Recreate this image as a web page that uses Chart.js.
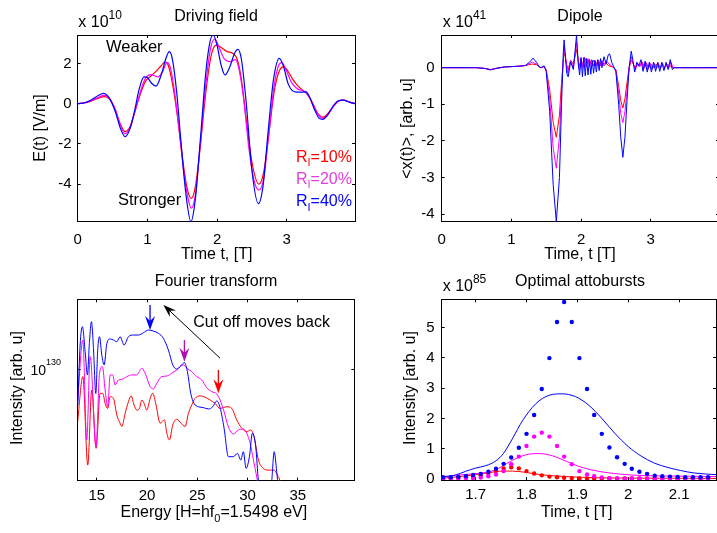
<!DOCTYPE html>
<html>
<head>
<meta charset="utf-8">
<script src="https://cdn.jsdelivr.net/npm/chart.js@4.4.1/dist/chart.umd.min.js"></script>
<style>
html, body { margin: 0; padding: 0; background: #fff; overflow: hidden; }
#wrap { position: relative; width: 717px; height: 533px; overflow: hidden; background: #fff; }
#wrap canvas { position: absolute; left: 0; top: 0; }
</style>
</head>
<body>
<div id="wrap">
  <canvas id="field" width="720" height="533"></canvas>
  <canvas id="dipole" width="720" height="533"></canvas>
  <canvas id="fourier" width="720" height="533"></canvas>
  <canvas id="burst" width="720" height="533"></canvas>
</div>
<script>
const W = 720, H = 533;
const FONT = '"Liberation Sans", Arial, Helvetica, sans-serif';
const RED = '#ff0000', MAG = '#ff00ff', BLUE = '#0000ff';
const AXIS_W = 60, AXIS_H = 30;   // 刻度标签所占的盒子

// 驱动场 E(t) [x1e10 V/m]，[t, E]
const fieldRed = [[0,0],[0.1,0.04],[0.2,0.14],[0.3,0.28],[0.38,0.35],[0.46,0.22],[0.54,-0.3],[0.61,-1.0],[0.68,-1.39],[0.75,-1.15],[0.82,-0.4],[0.9,0.5],[0.97,1.1],[1.04,1.34],[1.12,1.6],[1.2,1.9],[1.253,2.09],[1.3,1.9],[1.36,1.0],[1.43,-0.6],[1.5,-2.6],[1.57,-4.2],[1.63,-4.71],[1.69,-4.1],[1.76,-2.1],[1.84,0.6],[1.91,2.3],[1.96,2.85],[1.995,2.92],[2.06,2.8],[2.14,2.6],[2.23,2.5],[2.29,2.2],[2.35,1.2],[2.42,-0.8],[2.5,-2.9],[2.6,-4.0],[2.67,-3.4],[2.74,-1.6],[2.82,0.6],[2.89,1.6],[2.96,1.85],[3.02,1.6],[3.09,1.2],[3.15,0.93],[3.22,0.7],[3.3,0.45],[3.37,0.05],[3.44,-0.45],[3.52,-0.67],[3.6,-0.45],[3.68,-0.08],[3.75,0.15],[3.81,0.18],[3.9,0.08],[3.98,0]];
const fieldMag = [[0,0],[0.1,0.05],[0.2,0.16],[0.3,0.32],[0.38,0.42],[0.46,0.25],[0.54,-0.3],[0.61,-1.05],[0.68,-1.5],[0.75,-1.2],[0.82,-0.4],[0.9,0.6],[0.97,1.25],[1.05,1.45],[1.15,1.34],[1.22,1.6],[1.28,2.05],[1.33,1.8],[1.39,0.6],[1.46,-1.4],[1.53,-3.6],[1.6,-4.95],[1.63,-5.2],[1.69,-4.5],[1.76,-2.0],[1.84,1.0],[1.91,2.8],[1.97,3.22],[2.03,2.8],[2.1,2.25],[2.19,2.09],[2.26,2.19],[2.31,1.8],[2.38,0.3],[2.46,-2.3],[2.53,-3.8],[2.6,-4.3],[2.67,-3.7],[2.74,-1.6],[2.82,0.9],[2.89,1.95],[2.93,2.05],[3.0,1.6],[3.07,1.05],[3.15,0.75],[3.23,0.65],[3.3,0.45],[3.37,0],[3.44,-0.5],[3.52,-0.72],[3.6,-0.5],[3.68,-0.1],[3.75,0.15],[3.81,0.18],[3.9,0.08],[3.98,0]];
const fieldBlue = [[0,0],[0.1,0.05],[0.2,0.2],[0.3,0.42],[0.37,0.52],[0.45,0.3],[0.54,-0.4],[0.61,-1.2],[0.68,-1.64],[0.75,-1.25],[0.82,-0.3],[0.88,0.7],[0.95,1.34],[1.0,1.3],[1.06,1.02],[1.124,0.88],[1.2,1.45],[1.27,2.3],[1.315,2.59],[1.36,2.2],[1.42,0.6],[1.48,-1.8],[1.55,-4.4],[1.625,-5.87],[1.69,-4.7],[1.76,-1.8],[1.84,1.6],[1.9,3.1],[1.945,3.42],[2.0,2.9],[2.06,1.9],[2.114,1.43],[2.18,1.8],[2.25,2.5],[2.3,2.7],[2.35,2.2],[2.42,0],[2.5,-3.3],[2.593,-4.97],[2.66,-4.1],[2.73,-1.5],[2.81,1.2],[2.894,2.26],[2.95,1.9],[3.02,1.0],[3.08,0.65],[3.15,0.58],[3.22,0.58],[3.27,0.6],[3.32,0.4],[3.4,-0.3],[3.46,-0.7],[3.52,-0.78],[3.58,-0.6],[3.66,-0.15],[3.73,0.12],[3.81,0.18],[3.9,0.08],[3.98,0]];
const FIELD_X_TICKS = [0, 1, 2, 3];
const FIELD_Y_TICKS = [-4, -2, 0, 2];

// 偶极矩 <x(t)> [x1e41]，[t, x]
const dipRed = [[0,0],[0.5,0],[0.62,-0.02],[0.7,-0.05],[0.78,-0.02],[0.9,0.02],[1.1,0.04],[1.2,0.06],[1.3,0.1],[1.36,0.08],[1.42,0],[1.47,0.03],[1.5,-0.05],[1.55,-0.6],[1.6,-1.5],[1.645,-1.9],[1.69,-1.3],[1.72,-0.4],[1.75,0.3],[1.765,0.4],[1.79,0.1],[1.815,-0.05],[1.85,0.2],[1.89,0.1],[1.935,0.5],[1.96,0.2],[1.98,0.05],[2.0,0.2],[2.03,0.1],[2.06,0.25],[2.09,0.12],[2.12,0.22],[2.15,0.1],[2.18,0.2],[2.21,0.08],[2.24,0.18],[2.27,0.06],[2.3,0.15],[2.33,0.05],[2.36,0.12],[2.4,0.05],[2.45,0.02],[2.5,-0.05],[2.54,-0.5],[2.57,-0.9],[2.6,-1.1],[2.63,-0.85],[2.66,-0.4],[2.69,0],[2.72,0.2],[2.75,0.1],[2.78,0],[2.82,0.1],[2.85,0.05],[2.88,0.15],[2.91,0],[2.94,0.12],[2.97,0],[3.0,0.1],[3.04,0],[3.08,0.1],[3.12,0],[3.16,0.08],[3.2,0.02],[3.25,0.08],[3.3,0.02],[3.35,0],[3.6,0],[3.98,0]];
const dipMag = [[0,0],[0.5,0],[0.62,-0.02],[0.7,-0.055],[0.78,-0.02],[0.9,0.02],[1.1,0.04],[1.2,0.06],[1.3,0.15],[1.36,0.1],[1.42,0],[1.47,0.04],[1.5,-0.08],[1.55,-0.85],[1.6,-2.2],[1.645,-2.75],[1.69,-1.9],[1.72,-0.6],[1.75,0.35],[1.76,0.6],[1.78,0.25],[1.81,-0.15],[1.85,0.2],[1.89,0],[1.935,0.7],[1.96,0.15],[1.98,-0.05],[2.0,0.25],[2.025,0],[2.05,0.28],[2.075,0.02],[2.1,0.25],[2.125,0.03],[2.15,0.22],[2.175,0.05],[2.2,0.2],[2.225,0.05],[2.25,0.2],[2.275,0.05],[2.3,0.2],[2.33,0.08],[2.36,0.2],[2.4,0.1],[2.44,0.05],[2.47,0],[2.5,-0.08],[2.54,-0.7],[2.57,-1.25],[2.6,-1.5],[2.63,-1.2],[2.66,-0.6],[2.69,0],[2.72,0.3],[2.75,0.1],[2.78,-0.05],[2.81,0.12],[2.84,0.02],[2.87,0.17],[2.9,-0.03],[2.93,0.15],[2.96,-0.05],[2.99,0.12],[3.02,-0.05],[3.05,0.12],[3.08,-0.03],[3.11,0.12],[3.14,-0.03],[3.17,0.12],[3.2,-0.02],[3.23,0.1],[3.26,0],[3.29,0.15],[3.32,0],[3.36,0],[3.6,0],[3.98,0]];
const dipBlue = [[0,0],[0.5,0],[0.62,-0.02],[0.7,-0.06],[0.78,-0.02],[0.9,0.02],[1.1,0.04],[1.2,0.06],[1.26,0.15],[1.31,0.26],[1.36,0.15],[1.4,0.02],[1.43,0],[1.47,0.05],[1.5,-0.1],[1.55,-1.2],[1.6,-3.2],[1.645,-4.2],[1.69,-3.0],[1.72,-1.0],[1.745,0.4],[1.757,0.76],[1.775,0.3],[1.795,-0.15],[1.815,-0.25],[1.85,0.16],[1.89,-0.05],[1.935,0.89],[1.96,0.1],[1.98,-0.2],[2.0,0.28],[2.02,-0.25],[2.04,0.28],[2.06,-0.22],[2.08,0.25],[2.1,-0.2],[2.12,0.22],[2.14,-0.18],[2.16,0.2],[2.18,-0.15],[2.2,0.2],[2.22,-0.12],[2.24,0.22],[2.26,-0.08],[2.28,0.25],[2.3,0],[2.33,0.3],[2.36,0.1],[2.39,0.35],[2.41,0.38],[2.44,0.15],[2.47,0.02],[2.5,-0.1],[2.54,-1.0],[2.57,-1.9],[2.6,-2.45],[2.63,-1.9],[2.66,-0.9],[2.69,0],[2.72,0.45],[2.745,0.2],[2.77,-0.12],[2.8,0.15],[2.83,0.05],[2.86,0.22],[2.89,-0.1],[2.92,0.18],[2.95,-0.12],[2.98,0.15],[3.01,-0.12],[3.04,0.15],[3.07,-0.1],[3.1,0.15],[3.13,-0.1],[3.16,0.15],[3.19,-0.08],[3.22,0.15],[3.25,-0.05],[3.28,0.22],[3.31,-0.05],[3.34,0],[3.6,0],[3.98,0]];
const DIP_X_TICKS = [0, 1, 2, 3];
const DIP_Y_TICKS = [-4, -3, -2, -1, 0];

// 傅里叶谱：[能量(谐波阶), log10(强度)]
const ftRed = [[13.08,128.06],[13.61,129.73],[14.1,126.56],[14.5,129.25],[14.93,127.16],[15.33,129.13],[15.6,129.13],[15.83,128.77],[16.09,128.59],[16.33,129.01],[16.66,128.95],[16.99,128.36],[17.32,128.06],[17.49,127.94],[17.82,128.41],[18.15,128.83],[18.42,129.04],[18.71,128.71],[18.98,128.53],[19.25,128.59],[19.48,128.89],[19.71,128.77],[19.98,128.53],[20.31,128.95],[20.57,129.13],[20.9,128.71],[21.3,128.06],[21.73,128.18],[21.97,127.7],[22.23,127.46],[22.56,128.0],[22.96,128.2],[23.39,128.06],[23.79,127.94],[24.12,128.41],[24.45,128.71],[24.78,128.95],[25.28,129.04],[25.78,128.99],[26.28,128.89],[26.77,128.77],[27.27,128.59],[27.94,128.65],[28.43,128.59],[28.93,128.18],[29.43,127.88],[29.93,127.76],[30.32,127.82],[30.65,127.58],[31.09,126.74],[31.58,126.44],[32.08,126.38],[32.65,126.38],[32.98,126.2],[33.24,125.99],[33.57,125.37]];
const ftMag = [[13.08,128.77],[13.61,131.04],[14.0,127.46],[14.34,130.45],[14.93,127.22],[15.27,129.85],[15.56,130.09],[15.83,129.25],[16.09,128.65],[16.33,129.79],[16.59,129.79],[16.82,129.43],[17.16,129.61],[17.49,129.63],[17.99,129.73],[18.48,129.79],[18.98,129.79],[19.48,130.03],[19.81,129.85],[20.31,129.37],[20.64,129.29],[20.97,129.49],[21.47,129.73],[21.97,129.75],[22.46,129.85],[22.96,129.97],[23.62,130.15],[23.96,130.03],[24.45,129.91],[24.95,129.73],[25.45,129.61],[25.95,129.33],[26.44,129.19],[26.94,129.11],[27.27,128.89],[27.67,128.47],[28.1,127.93],[28.6,127.67],[29.1,127.82],[29.59,127.85],[29.93,127.7],[30.26,127.34],[30.59,126.74],[30.92,126.14],[31.25,125.49]];
const ftBlue = [[13.11,128.71],[13.34,130.86],[13.57,131.52],[13.84,130.62],[14.07,129.79],[14.27,130.98],[14.47,131.7],[14.67,130.74],[14.9,129.13],[15.1,130.74],[15.27,131.16],[15.5,130.5],[15.73,130.15],[16.0,130.92],[16.33,131.08],[16.66,131.04],[16.99,130.98],[17.32,131.16],[17.72,130.86],[18.15,131.16],[18.65,131.22],[19.15,131.22],[19.64,131.3],[20.14,131.4],[20.64,131.36],[21.14,131.28],[21.63,131.1],[22.13,130.68],[22.56,130.15],[22.96,130.0],[23.36,130.12],[23.72,130.23],[24.02,129.91],[24.35,129.13],[24.68,128.77],[25.12,128.65],[25.61,128.62],[26.11,128.57],[26.54,128.65],[26.94,128.86],[27.27,128.62],[27.67,127.88],[28.1,126.86],[28.6,126.86],[29.0,126.98],[29.33,126.74],[29.59,127.04],[29.86,126.44],[30.19,126.86],[30.49,127.7],[30.82,127.22],[31.09,125.99],[31.58,125.37],[32.08,125.37],[32.41,125.99],[32.65,127.04],[32.91,126.32],[33.11,125.6],[33.31,125.37]];
const FT_X_TICKS = [15, 20, 25, 30, 35];
const FT_Y_TICKS = [130];
// 截止位置箭头：[能量, 起点, 终点]
const cutRed = [27.1, 129.97, 129.13];
const cutMag = [23.72, 131.04, 130.26];
const cutBlue = [20.3, 132.3, 131.4];
const cutMove = [[27.27, 130.39], [21.63, 132.3]];

// 最优阿秒脉冲 [x1e85]
const dotT = [1.636,1.651,1.666,1.681,1.695,1.710,1.725,1.740,1.755,1.770,1.785,1.800,1.815,1.830,1.845,1.860,1.874,1.889,1.904,1.919,1.933,1.948,1.963,1.978,1.993,2.007,2.022,2.037,2.052,2.067,2.082,2.097,2.112,2.127,2.142,2.157];
const dotBlue = [0.06,0.06,0.07,0.10,0.13,0.17,0.24,0.34,0.50,0.71,1.03,1.49,2.11,2.97,3.99,5.18,5.84,5.18,3.99,2.97,2.11,1.49,1.04,0.72,0.50,0.34,0.24,0.17,0.11,0.09,0.08,0.07,0.06,0.06,0.06,0.06];
const dotMag = [0.02,0.02,0.02,0.03,0.03,0.05,0.09,0.15,0.26,0.49,0.74,1.09,1.40,1.53,1.40,1.09,0.74,0.49,0.26,0.15,0.09,0.05,0.03,0.02,0.02,0.02,0.02,0.02,0.02,0.02,0.02,0.02,0.02,0.02,0.02,0.02];
const dotRed = [0.02,0.03,0.04,0.06,0.08,0.12,0.17,0.26,0.35,0.39,0.35,0.26,0.18,0.12,0.08,0.06,0.04,0.03,0.02,0.02,0.02,0.02,0.02,0.02,0.02,0.02,0.02,0.02,0.02,0.02,0.02,0.02,0.02,0.02,0.02,0.02];
const burstBlue = [[1.633,0.07],[1.66,0.13],[1.68,0.25],[1.7,0.36],[1.72,0.44],[1.74,0.6],[1.755,0.85],[1.773,1.35],[1.792,1.92],[1.818,2.48],[1.844,2.76],[1.87,2.81],[1.896,2.72],[1.922,2.44],[1.948,2.0],[1.974,1.5],[2.0,1.07],[2.025,0.76],[2.052,0.52],[2.078,0.38],[2.103,0.28],[2.129,0.2],[2.175,0.14]];
const burstMag = [[1.633,0.05],[1.66,0.12],[1.695,0.17],[1.727,0.24],[1.745,0.35],[1.76,0.5],[1.785,0.72],[1.805,0.82],[1.824,0.84],[1.85,0.77],[1.876,0.6],[1.902,0.42],[1.928,0.3],[1.954,0.22],[1.978,0.17],[2.006,0.13],[2.04,0.11],[2.071,0.1],[2.12,0.09],[2.175,0.08]];
const burstRed = [[1.633,0.02],[1.662,0.07],[1.695,0.13],[1.727,0.21],[1.753,0.26],[1.772,0.26],[1.798,0.22],[1.824,0.15],[1.857,0.1],[1.889,0.07],[1.94,0.04],[2.0,0.03],[2.175,0.02]];
const BURST_X_TICKS = [1.7, 1.8, 1.9, 2, 2.1];
const BURST_Y_TICKS = [0, 1, 2, 3, 4, 5];

Chart.defaults.font.family = FONT;

const xy = pairs => pairs.map(p => ({ x: p[0], y: p[1] }));

function curve(pairs, color, order, width, smooth) {
  return { data: xy(pairs), borderColor: color, borderWidth: width || 1, pointRadius: 0, fill: false, order: order,
           cubicInterpolationMode: smooth === false ? 'default' : 'monotone', tension: 0 };
}

function dots(ys, color, order) {
  return { data: dotT.map((t, i) => ({ x: t, y: ys[i] })), showLine: false, order: order,
           pointRadius: 2.2, pointBorderWidth: 0, pointBackgroundColor: color, borderColor: color };
}

// 一条坐标轴，刻度朝内（MATLAB 风格）
function edge(pos, ax, labels) {
  const vertical = pos === 'left' || pos === 'right';
  return {
    type: 'linear', position: pos, min: ax.min, max: ax.max,
    afterBuildTicks: s => { s.ticks = ax.ticks.map(v => ({ value: v })); },
    afterFit: s => {
      if (vertical) s.width = pos === 'left' ? AXIS_W : 0;
      else s.height = pos === 'bottom' ? AXIS_H : 0;
    },
    grid: { drawOnChartArea: false, drawTicks: true, tickLength: -3, color: '#000', lineWidth: 1 },
    border: { display: true, color: '#000', width: 1 },
    ticks: { display: labels, color: '#000', font: { family: FONT, size: 15 }, padding: ax.pad,
             maxRotation: 0, autoSkip: false, callback: v => String(v) }
  };
}

function panel(id, box, xAx, yAx, datasets, deco) {
  new Chart(document.getElementById(id), {
    type: 'line',
    data: { datasets },
    options: {
      responsive: false, animation: false, events: [],
      layout: { padding: { left: box[0] - AXIS_W, top: box[1], right: W - box[2], bottom: H - box[3] - AXIS_H } },
      scales: {
        x: edge('bottom', xAx, true), x2: edge('top', xAx, false),
        y: edge('left', yAx, yAx.labels !== false), y2: edge('right', yAx, false)
      },
      plugins: { legend: { display: false }, tooltip: { enabled: false } }
    },
    plugins: [{ id: 'deco_' + id, afterDraw: c => deco(c.ctx, c) }]
  });
}

// 带上下标的文字：parts = [[文字, 字号, 垂直偏移]]
function rich(ctx, x, y, parts, opt) {
  opt = opt || {};
  ctx.save();
  ctx.fillStyle = opt.color || '#000';
  ctx.textBaseline = opt.baseline || 'alphabetic';
  ctx.textAlign = 'left';
  const fontOf = p => p[1] + 'px ' + FONT;
  let w = 0;
  parts.forEach(p => { ctx.font = fontOf(p); w += ctx.measureText(p[0]).width; });
  ctx.translate(x, y);
  if (opt.rotate) ctx.rotate(-Math.PI / 2);
  let cx = opt.align === 'center' ? -w / 2 : (opt.align === 'right' ? -w : 0);
  parts.forEach(p => { ctx.font = fontOf(p); ctx.fillText(p[0], cx, p[2] || 0); cx += ctx.measureText(p[0]).width; });
  ctx.restore();
}

function arrow(ctx, x1, y1, x2, y2, color, lw, head, half) {
  const a = Math.atan2(y2 - y1, x2 - x1), c = Math.cos(a), s = Math.sin(a);
  ctx.save();
  ctx.strokeStyle = color; ctx.fillStyle = color; ctx.lineWidth = lw;
  ctx.beginPath(); ctx.moveTo(x1, y1); ctx.lineTo(x2 - head * 0.6 * c, y2 - head * 0.6 * s); ctx.stroke();
  ctx.beginPath();
  ctx.moveTo(x2, y2);
  ctx.lineTo(x2 - head * c - half * s, y2 - head * s + half * c);
  ctx.lineTo(x2 - head * 0.65 * c, y2 - head * 0.65 * s);
  ctx.lineTo(x2 - head * c + half * s, y2 - head * s - half * c);
  ctx.closePath(); ctx.fill();
  ctx.restore();
}

// 左上：驱动场
panel('field', [77.7, 35, 355, 221.7],
  { min: 0, max: 3.98, ticks: FIELD_X_TICKS, pad: 12 },
  { min: -5.87, max: 3.42, ticks: FIELD_Y_TICKS, pad: 9 },
  [curve(fieldRed, RED, 2, 1.2), curve(fieldMag, MAG, 1, 1.2), curve(fieldBlue, BLUE, 0, 1.2)],
  ctx => {
    rich(ctx, 216, 21, [['Driving field', 16]], { align: 'center' });
    rich(ctx, 78.3, 26.7, [['x 10', 16], ['10', 12, -7.7]]);
    rich(ctx, 41, 128, [['E(t) [V/m]', 16]], { align: 'center', rotate: true, baseline: 'middle' });
    rich(ctx, 216.7, 259, [['Time t, [T]', 16]], { align: 'center' });
    rich(ctx, 106, 51.5, [['Weaker', 16.5]]);
    rich(ctx, 118, 204.5, [['Stronger', 16.5]]);
    rich(ctx, 296, 161.7, [['R', 16], ['I', 11, 4.5], ['=10%', 16]], { color: RED });
    rich(ctx, 296, 183.5, [['R', 16], ['I', 11, 4.5], ['=20%', 16]], { color: '#e040e0' });
    rich(ctx, 296, 206, [['R', 16], ['I', 11, 4.5], ['=40%', 16]], { color: BLUE });
  });

// 右上：偶极矩
panel('dipole', [441.7, 35, 719, 221.7],
  { min: 0, max: 3.98, ticks: DIP_X_TICKS, pad: 12 },
  { min: -4.21, max: 0.894, ticks: DIP_Y_TICKS, pad: 10 },
  [curve(dipRed, RED, 2, 1, false), curve(dipMag, MAG, 1, 1, false), curve(dipBlue, BLUE, 0, 1, false)],
  ctx => {
    rich(ctx, 580, 21, [['Dipole', 16]], { align: 'center' });
    rich(ctx, 442.7, 26.7, [['x 10', 16], ['41', 12, -7.7]]);
    rich(ctx, 407.5, 128.5, [['<x(t)>, [arb. u]', 16]], { align: 'center', rotate: true, baseline: 'middle' });
    rich(ctx, 580, 259, [['Time, t [T]', 16]], { align: 'center' });
  });

// 左下：傅里叶谱（纵轴为对数强度）
panel('fourier', [77.7, 299.3, 354.3, 480.7],
  { min: 13.1, max: 40.63, ticks: FT_X_TICKS, pad: 9 },
  { min: 126, max: 132.5, ticks: FT_Y_TICKS, pad: 10, labels: false },
  [curve(ftRed, RED, 2), curve(ftMag, MAG, 1), curve(ftBlue, BLUE, 0)],
  (ctx, c) => {
    const sx = c.scales.x, sy = c.scales.y;
    const ty = sy.getPixelForValue(FT_Y_TICKS[0]);
    rich(ctx, 61, ty + 6, [['10', 14], ['130', 9, -10.5]], { align: 'right' });
    rich(ctx, 216, 285.7, [['Fourier transform', 16]], { align: 'center' });
    rich(ctx, 17.5, 388, [['Intensity [arb. u]', 16]], { align: 'center', rotate: true, baseline: 'middle' });
    rich(ctx, 213.8, 517, [['Energy [H=hf', 16], ['0', 11, 5], ['=1.5498 eV]', 16]], { align: 'center' });
    rich(ctx, 193.3, 327.3, [['Cut off moves back', 16]]);
    [[cutBlue, BLUE], [cutMag, '#b010b0'], [cutRed, RED]].forEach(([a, col]) => {
      const px = sx.getPixelForValue(a[0]);
      arrow(ctx, px, sy.getPixelForValue(a[1]), px, sy.getPixelForValue(a[2]), col, 1.3, 14, 5);
    });
    arrow(ctx, sx.getPixelForValue(cutMove[0][0]), sy.getPixelForValue(cutMove[0][1]),
          sx.getPixelForValue(cutMove[1][0]), sy.getPixelForValue(cutMove[1][1]), '#000', 1, 13, 4.5);
  });

// 右下：最优阿秒脉冲
panel('burst', [441.7, 299.3, 719, 480],
  { min: 1.6333, max: 2.1725, ticks: BURST_X_TICKS, pad: 9 },
  { min: -0.033, max: 5.93, ticks: BURST_Y_TICKS, pad: 10 },
  [curve(burstRed, RED, 5), curve(burstMag, MAG, 4), curve(burstBlue, BLUE, 3),
   dots(dotRed, RED, 2), dots(dotMag, MAG, 1), dots(dotBlue, BLUE, 0)],
  ctx => {
    rich(ctx, 580, 285.7, [['Optimal attobursts', 16]], { align: 'center' });
    rich(ctx, 442.7, 291, [['x 10', 16], ['85', 12, -7.7]]);
    rich(ctx, 410.8, 388, [['Intensity [arb. u]', 16]], { align: 'center', rotate: true, baseline: 'middle' });
    rich(ctx, 576.7, 517, [['Time, t [T]', 16]], { align: 'center' });
  });
</script>
</body>
</html>
